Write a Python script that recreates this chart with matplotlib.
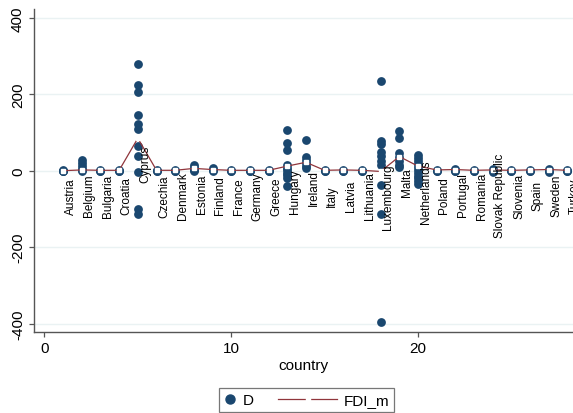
import matplotlib
matplotlib.use("Agg")
import matplotlib.pyplot as plt
from matplotlib.legend_handler import HandlerLine2D
from matplotlib.lines import Line2D

plt.rcParams["font.family"] = ["Liberation Sans", "DejaVu Sans"]

NAVY = "#1a476f"
MAROON = "#90353b"

countries = ["Austria", "Belgium", "Bulgaria", "Croatia", "Cyprus", "Czechia",
             "Denmark", "Estonia", "Finland", "France", "Germany", "Greece",
             "Hungary", "Ireland", "Italy", "Latvia", "Lithuania", "Luxembourg",
             "Malta", "Netherlands", "Poland", "Portugal", "Romania",
             "Slovak Republic", "Slovenia", "Spain", "Sweden", "Turkey"]

# D observations per country (several years each)
d_values = [
    [1, 0, -1, 0],
    [27, 20, 12, 5, 2, 0],
    [1, 0, -1],
    [1, 0, 0],
    [279, 225, 205, 146, 122, 109, 65, 39, -4, -101, -114],
    [1, 0, -1],
    [3, 0, -2],
    [15, 10, 5, 3, 0],
    [6, 3, 0],
    [1, 0, -1],
    [1, 0, -1],
    [1, 0, -1],
    [107, 72, 55, 15, 8, 2, -5, -12, -20, -40],
    [80, 35, 28, 20, 12, 7],
    [1, 0, -1],
    [3, 0, -2],
    [1, 0, -1],
    [234, 78, 70, 50, 38, 25, 15, -38, -113, -395],
    [104, 85, 45, 35, 25, 15, 10],
    [42, 33, 25, 17, 10, 3, -5, -13, -20, -27, -34],
    [3, 0, -2],
    [5, 2, 0, -1],
    [1, 0, -1],
    [4, 0, -3],
    [1, 0, -1],
    [3, 0, -2],
    [5, 0, -3],
    [1, 0, -1],
]

# country mean (FDI_m)
fdi_m = [0, 2, 1, 1, 85, 1, 1, 6, 3, 1, 1, 1, 12, 22, 1, 2, 1, -2, 37, 12,
         2, 3, 1, 2, 1, 2, 3, 1]

country_id = list(range(1, len(countries) + 1))
x_d = [c for c, vals in zip(country_id, d_values) for _ in vals]
y_d = [v for vals in d_values for v in vals]


class WideLineHandler(HandlerLine2D):
    """Legend key: long line with a white marker in the middle."""

    def create_artists(self, legend, orig_handle, xdescent, ydescent,
                       width, height, fontsize, trans):
        extra = 3.0 * fontsize
        x0, x1 = -xdescent - extra, width - xdescent
        y = (height - ydescent) / 2
        line = Line2D([x0, x1], [y, y], color=MAROON, lw=0.9)
        mark = Line2D([(x0 + x1) / 2], [y], marker="s", ls="none",
                      color="white", ms=2.4)
        line.set_transform(trans)
        mark.set_transform(trans)
        return [line, mark]


fig = plt.figure(figsize=(5.73, 4.14), dpi=100)
ax = fig.add_axes([34 / 573, 81 / 414, 1 - 34 / 573, 323 / 414])

ax.scatter(x_d, y_d, s=40, color=NAVY, linewidths=0, zorder=3)
ax.plot(country_id, fdi_m, color=MAROON, lw=0.9, marker="s", ms=2.4,
        mfc="white", mec="white", zorder=4)

for cid, name, m in zip(country_id, countries, fdi_m):
    ax.annotate(name, (cid, m), xytext=(5.5, -18), textcoords="offset points",
                rotation=90, ha="center", va="center", fontsize=8.5,
                color="black", zorder=5)

ax.set_xlim(-0.56, 28.3)
ax.set_ylim(-422, 423)
ax.set_yticks([-400, -200, 0, 200, 400])
ax.set_xticks([0, 10, 20])
ax.set_yticklabels(["-400", "-200", "0", "200", "400"], rotation=90, va="center")
ax.yaxis.grid(True, color="#eaf2f3", lw=1.0, zorder=0)
ax.set_axisbelow(True)
ax.spines[["top", "right"]].set_visible(False)
for side in ["left", "bottom"]:
    ax.spines[side].set_color("#555555")
    ax.spines[side].set_linewidth(1.0)
ax.tick_params(axis="both", colors="#555555", labelcolor="black",
               labelsize=11, length=3.5, width=0.9, pad=3)
ax.set_xlabel("country", fontsize=11, labelpad=2)

handles = [Line2D([], [], marker="o", ls="none", color=NAVY, ms=6.5),
           Line2D([], [], color=MAROON)]
leg = fig.legend(handles, ["D", "FDI_m"], loc="upper center",
                 bbox_to_anchor=(306.5 / 573, 1 - 381 / 414), ncol=2,
                 handler_map={handles[1]: WideLineHandler()},
                 frameon=True, fancybox=False, edgecolor="#777777",
                 framealpha=1, handlelength=0.8, handletextpad=0.45,
                 columnspacing=4.6, borderpad=0.35, fontsize=11)
leg.get_frame().set_linewidth(0.9)

fig.savefig("out.png", dpi=100)
